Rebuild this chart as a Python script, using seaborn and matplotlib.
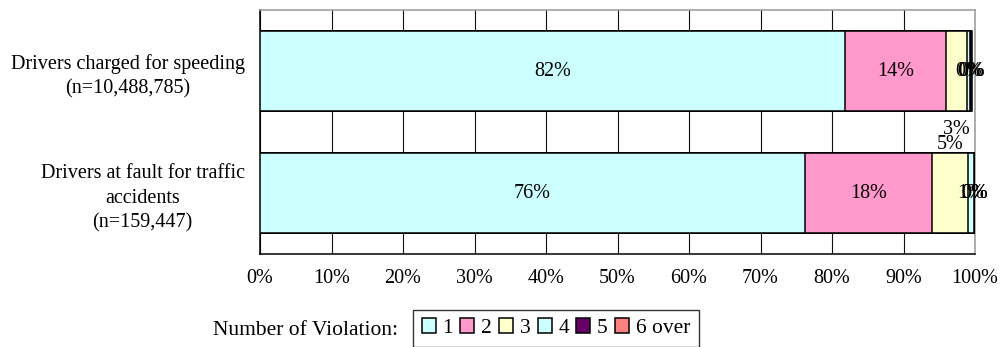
import matplotlib
matplotlib.use("Agg")
import matplotlib.pyplot as plt
from matplotlib.patches import Patch
import numpy as np
import pandas as pd
import seaborn as sns

# Share of drivers by number of violations (%)
groups = ["Drivers charged for speeding\n(n=10,488,785)",
          "Drivers at fault for traffic\naccidents\n(n=159,447)"]
violations = ["1", "2", "3", "4", "5", "6 over"]
speeding = [81.8, 14.1, 3.0, 0.4, 0.2, 0.1]
accidents = [76.2, 17.8, 5.0, 0.9, 0.1, 0.0]
colors = ["#CCFFFF", "#FF99CC", "#FFFFCC", "#CCFFFF", "#660066", "#FF8080"]
xticks = [0, 10, 20, 30, 40, 50, 60, 70, 80, 90, 100]

sns.set_theme(style="white")
plt.rcParams["font.family"] = ["Liberation Serif", "DejaVu Serif"]
plt.rcParams["text.color"] = "black"
plt.rcParams["xtick.labelcolor"] = "black"
plt.rcParams["ytick.labelcolor"] = "black"
FS = 14.5
LEG_FS = 15.5

values = np.array([speeding, accidents])
cum = values.cumsum(axis=1)

fig = plt.figure(figsize=(10, 3.47), dpi=100)
ax = fig.add_axes([0.26, 0.268, 0.715, 0.703])

# Stacked bars: draw cumulative totals from the outermost segment inward
for i in range(len(violations) - 1, -1, -1):
    df = pd.DataFrame({"group": groups, "value": cum[:, i]})
    sns.barplot(data=df, x="value", y="group", orient="h", color=colors[i],
                width=0.65, edgecolor="black", linewidth=1.1,
                saturation=1, ax=ax, zorder=3)

# Segment labels
offsets = {(0, 2): 0.48, (1, 2): -0.40}
for g in range(len(groups)):
    for i in range(len(violations)):
        left = cum[g, i] - values[g, i]
        xc = left + values[g, i] / 2
        y = g + offsets.get((g, i), 0)
        ax.text(xc, y, f"{values[g, i]:.0f}%", ha="center", va="center",
                fontsize=FS, color="black", zorder=5)

ax.set_xlim(0, 100)
ax.set_ylim(1.5, -0.5)
ax.set_xticks(xticks)
ax.set_xticklabels([f"{t}%" for t in xticks], fontsize=FS)
ax.set_xlabel("")
ax.set_ylabel("")
ax.tick_params(axis="x", length=0, pad=11, labelcolor="black")
ax.tick_params(axis="y", which="major", length=0, pad=11, labelsize=FS,
               labelcolor="black")
for lbl in ax.get_yticklabels():
    lbl.set_multialignment("center")
    lbl.set_linespacing(1.4)
ax.set_yticks([0.5], minor=True)
ax.tick_params(axis="y", which="minor", direction="in", length=6,
               width=1, color="#888888")

ax.grid(axis="x", color="#111111", linewidth=0.8, zorder=0)
ax.set_axisbelow(True)
for side in ["left", "bottom"]:
    ax.spines[side].set_color("black")
    ax.spines[side].set_linewidth(1.1)
for side in ["top", "right"]:
    ax.spines[side].set_color("#999999")
    ax.spines[side].set_linewidth(1.1)

handles = [Patch(facecolor=c, edgecolor="black", linewidth=1.1) for c in colors]
leg = fig.legend(handles, violations, loc="upper left",
                 bbox_to_anchor=(0.413, 0.107), ncol=6, fontsize=LEG_FS,
                 frameon=True, fancybox=False, edgecolor="black",
                 handlelength=0.65, handleheight=0.65, handletextpad=0.3,
                 columnspacing=0.35, borderpad=0.4, borderaxespad=0)
leg.get_frame().set_linewidth(1.0)
fig.text(0.213, 0.048, "Number of Violation:", fontsize=LEG_FS, ha="left",
         va="center")

fig.savefig("out.png", dpi=100)
